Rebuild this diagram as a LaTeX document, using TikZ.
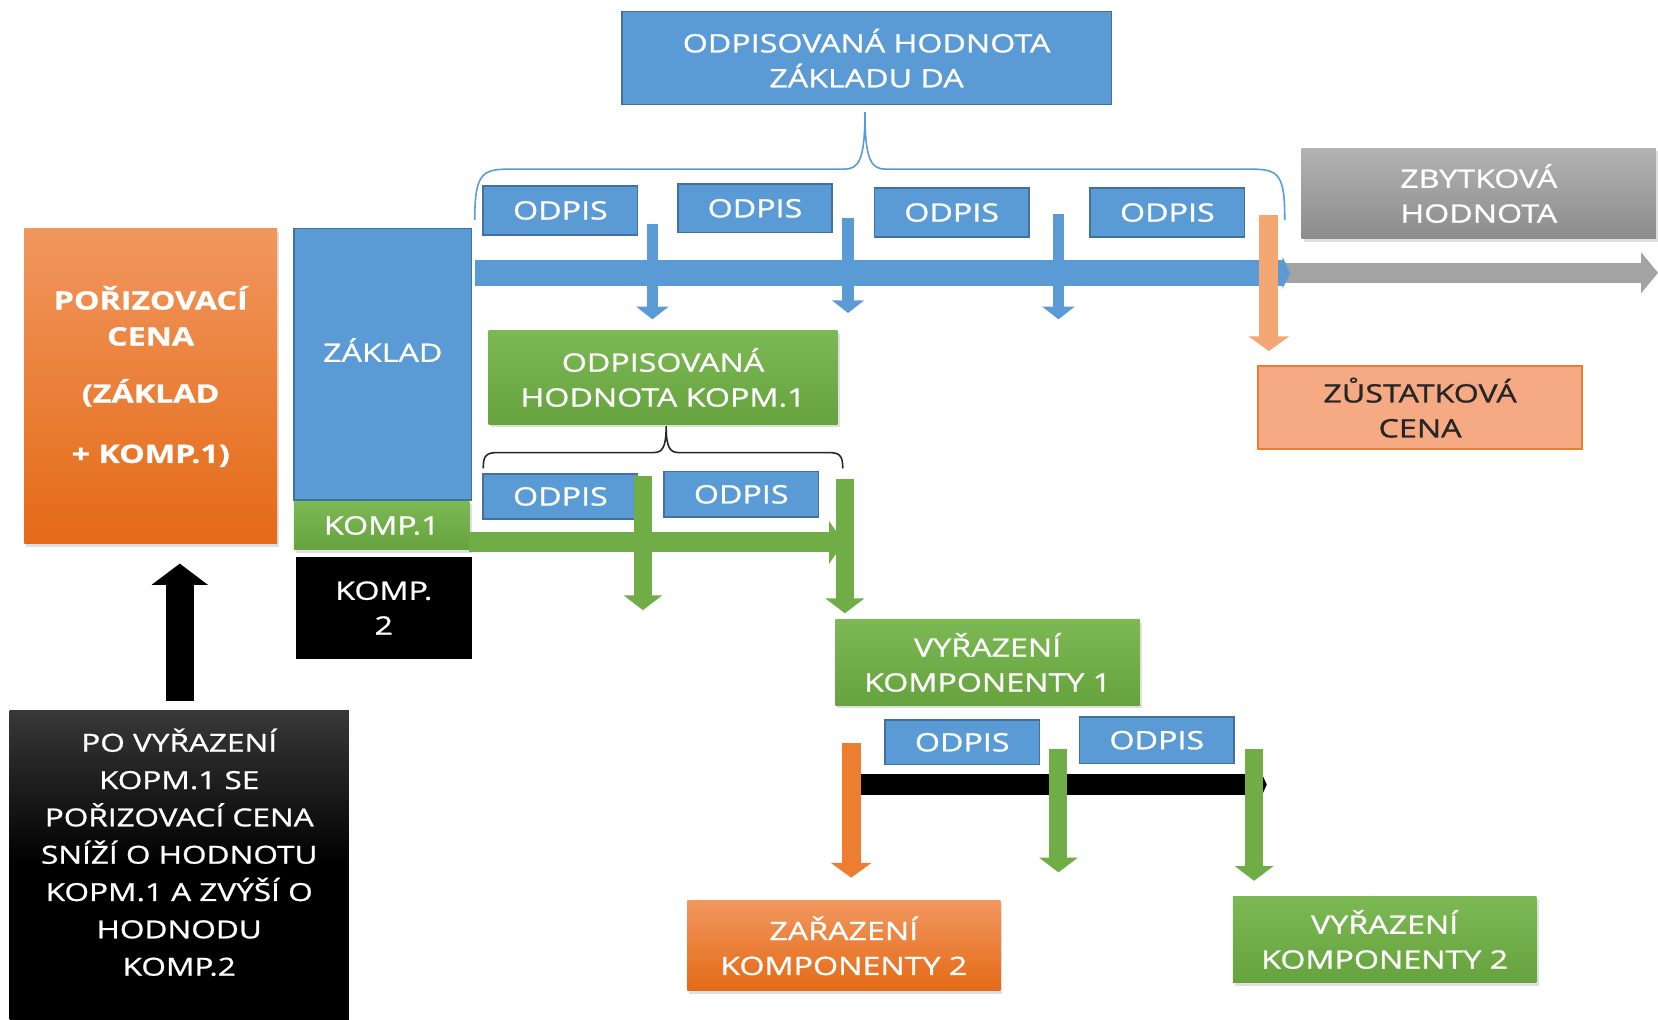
\documentclass[tikz,border=0pt]{standalone}
\usepackage{fontspec}
\newfontfamily\df[FakeStretch=1.27,FakeBold=1]{Open Sans}
\usetikzlibrary{arrows.meta,shadows}
\definecolor{cblue}{HTML}{5B9BD5}
\definecolor{cblueD}{HTML}{41719C}
\definecolor{cgreenT}{HTML}{7CB853}
\definecolor{cgreenB}{HTML}{66A33E}
\definecolor{cgreen}{HTML}{70AD47}
\definecolor{corT}{HTML}{F1975E}
\definecolor{corB}{HTML}{E46A16}
\definecolor{corange}{HTML}{ED7D31}
\definecolor{csalmon}{HTML}{F5AA84}
\definecolor{clight}{HTML}{F4A673}
\definecolor{cgrayT}{HTML}{B2B2B2}
\definecolor{cgrayB}{HTML}{8C8C8C}
\definecolor{cgray}{HTML}{A3A3A3}
\definecolor{ctext}{HTML}{262626}
\tikzset{
  bx/.style={rectangle, inner sep=0pt, align=center, text=white,
    font=\df\fontsize{24}{33}\selectfont},
  txt/.style={inner sep=0pt, align=center, text=white, font=\df\fontsize{24}{33}\selectfont},
  shd/.style={drop shadow={opacity=0.25, shadow xshift=2pt, shadow yshift=-3pt}},
  bluebox/.style={bx, fill=cblue, draw=cblueD, line width=1.5pt},
  greenbox/.style={bx, shd, top color=cgreenT, bottom color=cgreenB},
  orbox/.style={bx, shd, top color=corT, bottom color=corB},
  odpis/.style={bluebox, minimum width=146pt},
  barr/.style={draw=cblue, line width=11pt, -{Triangle[width=30pt,length=12pt]}},
  garr/.style={draw=cgreen, line width=17pt, -{Triangle[width=36pt,length=14pt]}},
  oarr/.style={line width=18pt, -{Triangle[width=38pt,length=14pt]}},
}
\begin{document}
\begin{tikzpicture}[x=1pt,y=-1pt]
\useasboundingbox[fill=white] (0,0) rectangle (1568,964);

% ---- top level
\node[bluebox, minimum width=463pt, minimum height=88pt] (top) at (819.5,55) {ODPISOVANÁ HODNOTA\\ZÁKLADU DA};
\coordinate (tipA) at (818,106);
\draw[cblue, line width=1.5pt] (449,208) .. controls (449,166) and (455,160) .. (480,160) -- (798,160)
  .. controls (812,160) and (818,152) .. (tipA)
  .. controls (818,152) and (824,160) .. (838,160) -- (1184,160)
  .. controls (1210,160) and (1215,166) .. (1215,208);

\node[odpis, minimum height=46pt] (o1) at (530,199) {ODPIS};
\node[odpis, minimum height=46pt] (o2) at (714,197) {ODPIS};
\node[odpis, minimum height=46pt] (o3) at (900,201) {ODPIS};
\node[odpis, minimum height=46pt] (o4) at (1104,201) {ODPIS};

\node[bx, shd, top color=cgrayT, bottom color=cgrayB, minimum width=335pt, minimum height=86pt] (zbyt) at (1398.5,183) {ZBYTKOVÁ\\HODNOTA};

% timeline bars
\coordinate (gs) at (1205,258);
\coordinate (ge) at (1568,258);
\draw[draw=cgray, line width=19pt, -{Triangle[width=38pt,length=16pt]}] (gs) -- (ge);
\coordinate (bs) at (449,258);
\coordinate (be) at (1220,258);
\draw[draw=cblue, line width=24pt, -{Triangle[width=30pt,length=7pt]}] (bs) -- (be);

\coordinate (d1s) at (617,212); \coordinate (d1e) at (617,302);
\coordinate (d2s) at (802,206); \coordinate (d2e) at (802,296);
\coordinate (d3s) at (1001,202); \coordinate (d3e) at (1001,302);
\draw[barr] (d1s) -- (d1e);
\draw[barr] (d2s) -- (d2e);
\draw[barr] (d3s) -- (d3e);
\coordinate (d4s) at (1200,203); \coordinate (d4e) at (1200,332);
\draw[oarr, draw=clight] (d4s) -- (d4e);

\node[bx, fill=csalmon, draw=corange, line width=2pt, text=ctext, minimum width=306pt, minimum height=79pt] (zust) at (1343,385.5) {ZŮSTATKOVÁ\\CENA};

% ---- left column
\node[orbox, minimum width=239pt, minimum height=298pt] (poriz) at (142.5,365) {};
\node[txt, font=\df\bfseries\fontsize{24}{34}\selectfont] (porizT) at (142.5,356) {POŘIZOVACÍ\\CENA\\[20pt](ZÁKLAD\\[23pt]+ KOMP.1)};

\node[bx, fill=cblue, draw=cblueD, line width=1.5pt, minimum width=168pt, minimum height=257pt] (zaklad) at (362,344.5) {};
\node[txt] (zakladT) at (362,331) {ZÁKLAD};
\node[greenbox, minimum width=166pt, minimum height=46pt] (komp1) at (361,497) {KOMP.1};
\node[bx, fill=black, minimum width=166pt, minimum height=96pt] (komp2) at (363,575) {KOMP.\\2};

\coordinate (us) at (170,663);
\coordinate (ue) at (170,533);
\draw[line width=26pt, -{Triangle[width=52pt,length=20pt]}] (us) -- (ue);

\node[bx, top color=black!78, bottom color=black, middle color=black, minimum width=321pt, minimum height=292pt] (poBox) at (169.5,818) {};
\node[txt, font=\df\fontsize{23.5}{35.3}\selectfont] (poT) at (169.5,806) {PO VYŘAZENÍ\\KOPM.1 SE\\POŘIZOVACÍ CENA\\SNÍŽÍ O HODNOTU\\KOPM.1 A ZVÝŠÍ O\\HODNODU\\KOMP.2};

% ---- component 1
\node[greenbox, minimum width=330pt, minimum height=88pt] (hk1) at (627,357) {ODPISOVANÁ\\HODNOTA KOPM.1};
\coordinate (tipB) at (630,403);
\draw[black!85, line width=1.5pt] (457,443) .. controls (457,432) and (459,428) .. (470,428) -- (618,428)
  .. controls (626,428) and (630,424) .. (tipB)
  .. controls (630,424) and (634,428) .. (642,428) -- (784,428)
  .. controls (795,428) and (797,432) .. (797,443);

\node[odpis, minimum height=43pt] (p1) at (530,469.5) {ODPIS};
\node[odpis, minimum height=43pt] (p2) at (701,467.5) {ODPIS};

\coordinate (hs) at (444,513);
\coordinate (he) at (798,513);
\draw[draw=cgreen, line width=19pt, -{Triangle[width=40pt,length=14pt]}] (hs) -- (he);
\coordinate (g1s) at (608,450); \coordinate (g1e) at (608,577);
\coordinate (g2s) at (799,453); \coordinate (g2e) at (799,580);
\draw[garr] (g1s) -- (g1e);
\draw[garr] (g2s) -- (g2e);

\node[greenbox, minimum width=288pt, minimum height=81pt] (vyr1) at (934,626.5) {VYŘAZENÍ\\KOMPONENTY 1};

% ---- component 2
\node[odpis, minimum height=42pt] (q1) at (910,702) {ODPIS};
\node[odpis, minimum height=44pt] (q2) at (1094,700) {ODPIS};

\coordinate (ks) at (810,742);
\coordinate (ke) at (1198,742);
\draw[line width=20pt, -{Triangle[width=26pt,length=6pt]}] (ks) -- (ke);
\coordinate (r1s) at (805,703); \coordinate (r1e) at (805,830);
\draw[oarr, draw=corange] (r1s) -- (r1e);
\coordinate (r2s) at (1001,708); \coordinate (r2e) at (1001,825);
\coordinate (r3s) at (1186,708); \coordinate (r3e) at (1186,833);
\draw[garr] (r2s) -- (r2e);
\draw[garr] (r3s) -- (r3e);

\node[orbox, minimum width=296pt, minimum height=85pt] (zar2) at (798,894.5) {ZAŘAZENÍ\\KOMPONENTY 2};
\node[greenbox, minimum width=287pt, minimum height=81pt] (vyr2) at (1309.5,888.5) {VYŘAZENÍ\\KOMPONENTY 2};
\end{tikzpicture}
\end{document}
